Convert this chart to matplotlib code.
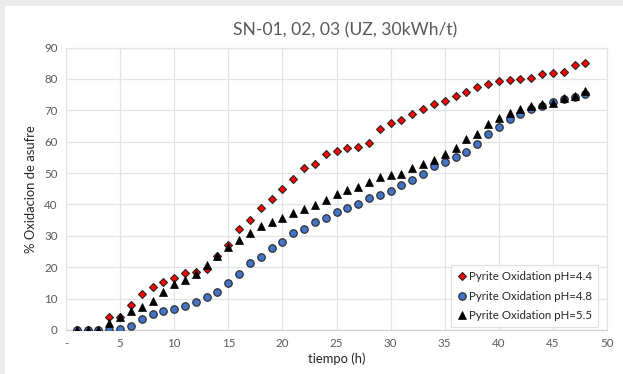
import matplotlib
matplotlib.use("Agg")
import matplotlib.pyplot as plt
from matplotlib.patches import Rectangle

plt.rcParams['font.family'] = ['Lato', 'DejaVu Sans']

hours = list(range(1, 49))
ph44 = [0, 0, 0, 4.0, 4.2, 8.0, 11.6, 13.7, 15.2, 16.7, 18.2, 18.4, 19.5, 23.7, 27.0, 32.1,
        35.0, 38.8, 41.7, 44.9, 48.1, 51.5, 52.9, 56.2, 57.1, 57.9, 58.2, 59.6, 63.9, 65.9,
        66.9, 68.8, 70.4, 72.0, 73.0, 74.5, 75.9, 77.3, 78.3, 79.2, 79.5, 80.0, 80.4, 81.4,
        81.9, 82.3, 84.4, 85.0]
ph48 = [0, 0, 0, 0.1, 0.3, 1.3, 3.4, 5.0, 5.9, 6.6, 7.7, 8.8, 10.4, 12.0, 15.0, 17.9,
        21.4, 23.3, 26.0, 28.0, 30.8, 32.3, 34.4, 35.8, 37.6, 38.9, 40.3, 41.9, 42.9, 44.3,
        46.2, 47.9, 49.7, 52.1, 53.4, 55.0, 56.6, 59.4, 62.3, 64.7, 67.1, 68.8, 70.3, 71.4,
        72.5, 73.5, 74.3, 75.2]
ph55 = [0, 0, 0, 2.1, 4.2, 5.9, 7.3, 9.1, 12.1, 14.6, 15.8, 17.9, 20.8, 23.7, 26.5, 28.8,
        31.0, 33.1, 34.5, 35.8, 37.4, 38.6, 39.8, 41.4, 43.3, 44.6, 45.7, 47.0, 48.9, 49.5,
        49.7, 51.5, 52.8, 54.2, 56.0, 58.1, 60.7, 62.4, 65.7, 67.5, 69.2, 70.5, 71.4, 72.1,
        72.4, 74.0, 74.6, 76.1]
labels = ["Pyrite Oxidation pH=4.4", "Pyrite Oxidation pH=4.8", "Pyrite Oxidation pH=5.5"]
xticks = [0, 5, 10, 15, 20, 25, 30, 35, 40, 45, 50]
xticklabels = ["-", "5", "10", "15", "20", "25", "30", "35", "40", "45", "50"]
yticks = [0, 10, 20, 30, 40, 50, 60, 70, 80, 90]

fig = plt.figure(figsize=(6.23, 3.74), dpi=100)
fig.patch.set_facecolor('#ebebeb')
fig.patches.append(Rectangle((5/623, 0), 1, 1 - 6/374, transform=fig.transFigure,
                             facecolor='white', edgecolor='none', zorder=-5))

ax = fig.add_axes([66/623, 1 - 330/374, (607 - 66)/623, (330 - 47.5)/374])
ax.set_zorder(2)
ax.set_facecolor('white')

ax.plot(hours, ph44, linestyle='none', marker='D', markersize=3.9, markerfacecolor='#ff0000',
        markeredgecolor='#262626', markeredgewidth=0.8, label=labels[0], zorder=3)
ax.plot(hours, ph48, linestyle='none', marker='o', markersize=5.4, markerfacecolor='#4472c4',
        markeredgecolor='#262626', markeredgewidth=0.8, label=labels[1], zorder=3)
ax.plot(hours, ph55, linestyle='none', marker='^', markersize=5.8, markerfacecolor='black',
        markeredgecolor='black', markeredgewidth=0.5, label=labels[2], zorder=3)

ax.set_xlim(0, 50)
ax.set_ylim(0, 90)
ax.set_xticks(xticks)
ax.set_xticklabels(xticklabels)
ax.set_yticks(yticks)
ax.grid(True, color='#e3e3e3', linewidth=0.9)
ax.set_axisbelow(True)
ax.tick_params(length=0, labelsize=8.3, labelcolor='#595959', pad=6)
for s in ax.spines.values():
    s.set_color('#e3e3e3')
    s.set_linewidth(0.9)
ax.spines['bottom'].set_color('#d0d0d0')

ax.set_xlabel('tiempo (h)', fontsize=9.4, color='#262626', labelpad=2)
ax.set_ylabel('% Oxidacion de asufre', fontsize=9.4, color='#262626', labelpad=5)
fig.text(345/623, 1 - 30/374, 'SN-01, 02, 03 (UZ, 30kWh/t)', fontsize=12.6, color='#595959',
         ha='center', va='center')

leg = ax.legend(loc='lower right', bbox_to_anchor=(598/623, 1 - 327/374), bbox_transform=fig.transFigure,
                fontsize=8.3, frameon=True, fancybox=False, edgecolor='#d9d9d9',
                handletextpad=0.1, handlelength=1.0, borderpad=0.5, labelspacing=0.75,
                borderaxespad=0)
leg.get_frame().set_linewidth(0.9)
for t in leg.get_texts():
    t.set_color('#262626')

fig.savefig('out.png', dpi=100)
